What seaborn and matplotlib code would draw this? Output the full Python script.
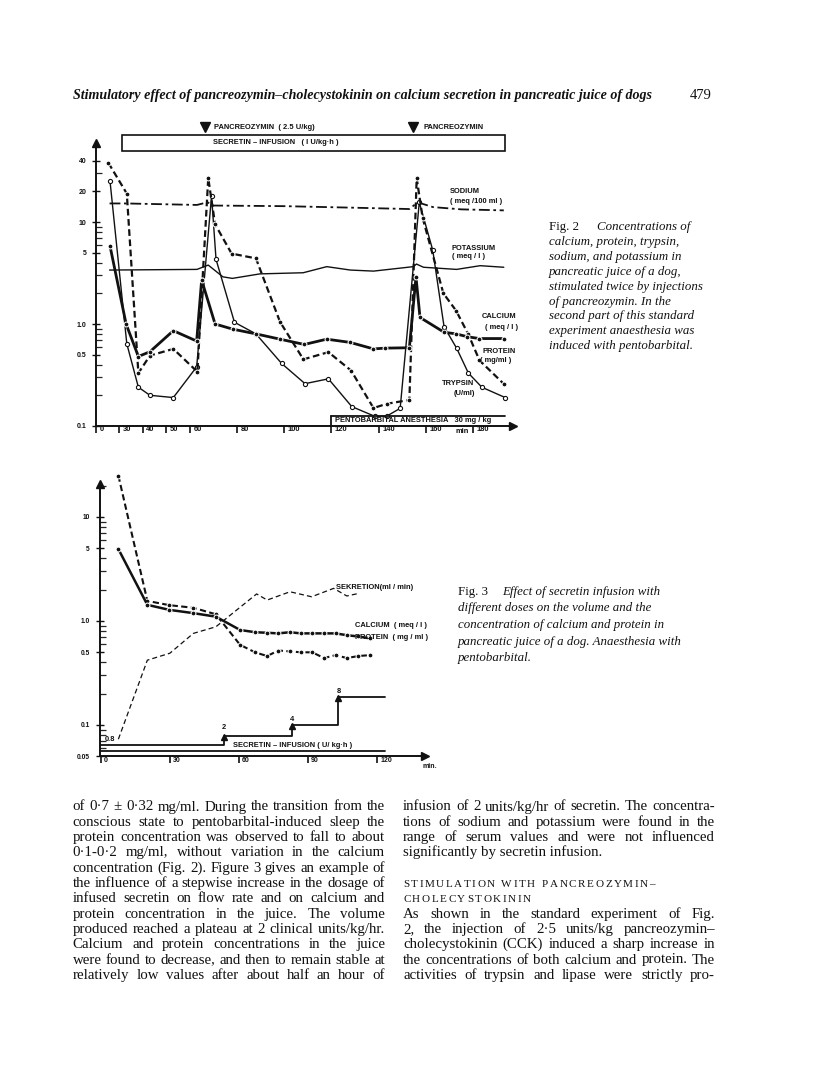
import numpy as np
import pandas as pd
import matplotlib
matplotlib.use("Agg")
import matplotlib.pyplot as plt
import seaborn as sns
from matplotlib import transforms as mtransforms
from matplotlib.patches import Rectangle
from matplotlib.ticker import FixedLocator, LogLocator, NullFormatter

W, H = 816, 1075

# ---- Fig. 2 : concentrations in pancreatic juice (time axis: "0" tick drawn at 20) ----
f2_calcium_t = [26.2, 33, 38.2, 43.1, 53, 62.9, 65, 70.7, 78.2, 88, 98.2, 108.5, 118, 127.9,
                137.8, 142.7, 153, 155.8, 157.5, 167.7, 172.8, 177.6, 182.6, 192.9]
f2_calcium_v = [5.8, 1.0, 0.48, 0.535, 0.86, 0.68, 2.7, 1.0, 0.89, 0.8, 0.71, 0.63, 0.71, 0.66,
                0.57, 0.58, 0.585, 2.9, 1.16, 0.83, 0.8, 0.75, 0.72, 0.72]

f2_protein_t = [25.5, 33.3, 38.2, 43.1, 53, 63.2, 67.8, 70.7, 77.7, 88, 98.2, 108.1, 118.7, 128.3,
                137.8, 143.4, 153, 156.1, 158.6, 167.4, 172.8, 178, 182.7, 192.9]
f2_protein_v = [38, 19, 0.33, 0.49, 0.57, 0.34, 27, 9.5, 4.9, 4.4, 1.05, 0.45, 0.53, 0.35,
                0.15, 0.165, 0.18, 27, 11, 2.0, 1.35, 0.79, 0.44, 0.26]

f2_trypsin_t = [26.2, 33.3, 38.2, 43.1, 53, 62.9, 69.2, 71.1, 78.9, 88, 98.9, 108.8, 118.7, 128.6,
                138.5, 143.4, 149.1, 157.2, 162.9, 167.7, 173, 178, 183.7, 193.6]
f2_trypsin_v = [25, 0.64, 0.24, 0.2, 0.19, 0.38, 18, 4.3, 1.04, 0.8, 0.41, 0.26, 0.29, 0.155,
                0.124, 0.125, 0.149, 15.6, 5.3, 0.94, 0.58, 0.33, 0.24, 0.19]

f2_sodium_t = [26, 33, 63, 67.5, 70, 100, 130, 153, 156.5, 163, 175, 193]
f2_sodium_v = [15.2, 15.2, 14.7, 15.6, 14.5, 14.3, 13.8, 13.4, 15.6, 14.0, 13.3, 13.0]

f2_potassium_t = [26, 63, 67.8, 74, 78, 89.7, 108, 118, 128, 137.8, 154.7, 156, 159, 173, 183, 193]
f2_potassium_v = [3.38, 3.43, 3.78, 2.9, 2.8, 3.1, 3.18, 3.65, 3.38, 3.3, 3.65, 3.87, 3.6, 3.43, 3.73, 3.6]

f2_xticks = [20.25, 30, 40, 50, 60, 80, 100, 120, 140, 160, 180]
f2_xlabels = ["0", "30", "40", "50", "60", "80", "100", "120", "140", "160", "180"]
f2_yticks = [0.1, 0.5, 1.0, 5, 10, 20, 40]
f2_ylabels = ["0.1", "0.5", "1.0", "5", "10", "20", "40"]

# ---- Fig. 3 : stepwise secretin infusion ----
f3_t = [7.7, 20.3, 29.8, 40.3, 50.1, 60.6, 67.1, 72.4, 77.2, 82.3, 87, 92, 97.1, 102.2, 107, 112, 117.1]
f3_protein_v = [25, 1.56, 1.42, 1.34, 1.16, 0.59, 0.50, 0.46, 0.52, 0.51, 0.50, 0.50, 0.44, 0.47, 0.44, 0.46, 0.47]
f3_calcium_v = [4.92, 1.43, 1.28, 1.19, 1.1, 0.82, 0.78, 0.77, 0.76, 0.78, 0.76, 0.76, 0.76, 0.76, 0.73, 0.71, 0.68]

f3_sekretion_t = [7.7, 20.3, 30.1, 40.3, 50.1, 67.8, 72.4, 82.3, 91.7, 101.3, 107, 112.6]
f3_sekretion_v = [0.073, 0.42, 0.49, 0.76, 0.88, 1.82, 1.59, 1.91, 1.71, 2.06, 1.74, 1.85]

dose_labels = ["0.8", "2", "4", "8"]
dose_start = [0, 53.7, 83.3, 103.3]
dose_end = 123.6

f3_xticks = [0, 30, 60, 90, 120]
f3_yticks = [0.05, 0.1, 0.5, 1.0, 5, 10]
f3_ylabels = ["0.05", "0.1", "0.5", "1.0", "5", "10"]

# ---- page text ----
header = "Stimulatory effect of pancreozymin\u2013cholecystokinin on calcium secretion in pancreatic juice of dogs"
cap2 = ["Concentrations of", "calcium, protein, trypsin,", "sodium, and potassium in",
        "pancreatic juice of a dog,", "stimulated twice by injections", "of pancreozymin. In the",
        "second part of this standard", "experiment anaesthesia was", "induced with pentobarbital."]
cap3 = ["Effect of secretin infusion with", "different doses on the volume and the",
        "concentration of calcium and protein in", "pancreatic juice of a dog. Anaesthesia with",
        "pentobarbital."]
left_col = [
    "of 0\u00b77 \u00b1 0\u00b732 mg/ml. During the transition from the",
    "conscious state to pentobarbital-induced sleep the",
    "protein concentration was observed to fall to about",
    "0\u00b71-0\u00b72 mg/ml, without variation in the calcium",
    "concentration (Fig. 2). Figure 3 gives an example of",
    "the influence of a stepwise increase in the dosage of",
    "infused secretin on flow rate and on calcium and",
    "protein concentration in the juice. The volume",
    "produced reached a plateau at 2 clinical units/kg/hr.",
    "Calcium and protein concentrations in the juice",
    "were found to decrease, and then to remain stable at",
    "relatively low values after about half an hour of",
]
right_col_a = [
    "infusion of 2 units/kg/hr of secretin. The concentra-",
    "tions of sodium and potassium were found in the",
    "range of serum values and were not influenced",
    "significantly by secretin infusion.",
]
right_head = ["STIMULATION WITH PANCREOZYMIN\u2013", "CHOLECYSTOKININ"]
right_col_b = [
    "As shown in the standard experiment of Fig.",
    "2, the injection of 2\u00b75 units/kg pancreozymin\u2013",
    "cholecystokinin (CCK) induced a sharp increase in",
    "the concentrations of both calcium and protein. The",
    "activities of trypsin and lipase were strictly pro-",
]

sns.set_style("white")
plt.rcParams["font.family"] = ["Liberation Sans", "DejaVu Sans"]
SERIF = ["Liberation Serif", "DejaVu Serif"]
INK = "#111111"

fig = plt.figure(figsize=(W / 100, H / 100), dpi=100)
renderer = fig.canvas.get_renderer()


def px_axes(l, t, r, b):
    return fig.add_axes([l / W, 1 - b / H, (r - l) / W, (b - t) / H])


def series(ax, t, v, **kw):
    df = pd.DataFrame({"t": t, "v": v})
    sns.lineplot(data=df, x="t", y="v", ax=ax, estimator=None, sort=False,
                 color=INK, clip_on=False, **kw)


def ptext(x, y, s, **kw):
    return fig.text(x / W, 1 - y / H, s, **kw)


def fit_size(lines, width, **kw):
    probe = ptext(0, 0, "", fontsize=10, **kw)
    widest = 0
    for line in lines:
        probe.set_text(line)
        widest = max(widest, probe.get_window_extent(renderer).width)
    probe.remove()
    return 10 * width / widest


def justify(x0, x1, y, line, **kw):
    words = line.split(" ")
    items = [ptext(0, 0, w, ha="left", va="baseline", **kw) for w in words]
    widths = [it.get_window_extent(renderer).width for it in items]
    gap = (x1 - x0 - sum(widths)) / max(len(words) - 1, 1)
    x = x0
    for it, w in zip(items, widths):
        it.set_position((x / W, 1 - y / H))
        x += w + gap


def tracked(x, y, s, track, space, **kw):
    for ch in s:
        if ch == " ":
            x += space
            continue
        it = ptext(x, y, ch, ha="left", va="baseline", **kw)
        x += it.get_window_extent(renderer).width + track


def style_axes(ax):
    ax.set_xlabel("")
    ax.set_ylabel("")
    for side in ["top", "right"]:
        ax.spines[side].set_visible(False)
    for side in ["left", "bottom"]:
        ax.spines[side].set_linewidth(1.4)
        ax.spines[side].set_color(INK)
    ax.plot([0], [1], marker="^", ms=6, color=INK, transform=ax.transAxes, clip_on=False)
    ax.plot([1], [0], marker=">", ms=6, color=INK, transform=ax.transAxes, clip_on=False)
    ax.patch.set_alpha(0)


LAB = 5.4
lab = dict(fontsize=LAB, fontweight="bold", color=INK)
shift = mtransforms.ScaledTranslation(3.5 / 100, 0, fig.dpi_scale_trans)

# ======================= Fig. 2 =======================
ax2 = px_axes(96, 143, 513, 426)
ax2.set_yscale("log")
series(ax2, f2_sodium_t, f2_sodium_v, lw=1.3, linestyle=(0, (6, 2, 1.5, 2)))
series(ax2, f2_potassium_t, f2_potassium_v, lw=1.0)
series(ax2, f2_trypsin_t, f2_trypsin_v, lw=1.0, marker="o", ms=3, mfc="white", mec=INK, mew=0.8)
series(ax2, f2_protein_t, f2_protein_v, lw=1.6, linestyle=(0, (3, 1.6)), marker="o", ms=3.5)
series(ax2, f2_calcium_t, f2_calcium_v, lw=2.0, marker="o", ms=3.5)
ax2.set_xlim(20.25, 196.9)
ax2.set_ylim(0.1, 59.5)
style_axes(ax2)

ax2.yaxis.set_major_locator(FixedLocator(f2_yticks))
ax2.set_yticklabels(f2_ylabels)
ax2.yaxis.set_minor_locator(LogLocator(base=10, subs=(2, 3, 4, 6, 7, 8, 9)))
ax2.yaxis.set_minor_formatter(NullFormatter())
ax2.tick_params(axis="y", which="major", direction="inout", length=6, width=1.0, pad=4,
                labelsize=LAB - 0.4, colors=INK, left=True)
ax2.tick_params(axis="y", which="minor", direction="in", length=4, width=0.9, left=True)
ax2.set_xticks(f2_xticks)
ax2.set_xticklabels(f2_xlabels, fontweight="bold")
ax2.tick_params(axis="x", direction="out", length=5, width=1.2, pad=-4.8, labelsize=LAB,
                colors=INK, bottom=True)
for t in ax2.get_xticklabels():
    t.set_ha("left")
    t.set_transform(t.get_transform() + shift)
for t in ax2.get_yticklabels():
    t.set_fontweight("bold")
ax2.text(172.5, 0.1, "min", ha="left", va="top", fontsize=LAB, color=INK,
         fontweight="bold").set_transform(
    ax2.transData + mtransforms.ScaledTranslation(0, -2 / 100, fig.dpi_scale_trans))

# secretin box, pancreozymin injections
ax2.add_patch(Rectangle((31.3, 49.7), 193.6 - 31.3, 71.3 - 49.7, fill=False, lw=1.2,
                        ec=INK, clip_on=False))
ax2.text(69.8, 59.5, "SECRETIN \u2013 INFUSION   ( I U/kg\u00b7h )", va="center", ha="left", **lab)
ax2.plot([66.4], [85], marker="v", ms=7, color=INK, clip_on=False)
ax2.text(70.2, 85, "PANCREOZYMIN  ( 2.5 U/kg)", va="center", ha="left", **lab)
ax2.plot([154.6], [85], marker="v", ms=7, color=INK, clip_on=False)
ax2.text(158.8, 85, "PANCREOZYMIN", va="center", ha="left", **lab)

# pentobarbital anesthesia bracket
ax2.plot([120, 193.6], [0.125, 0.125], color=INK, lw=1.3, clip_on=False)
ax2.plot([120, 120], [0.1, 0.125], color=INK, lw=1.3, clip_on=False)
ax2.text(121.6, 0.112, "PENTOBARBITAL ANESTHESIA   30 mg / kg", va="center", ha="left", **lab)

# series labels
for x, y, s in [(170.3, 19.8, "SODIUM"), (170.3, 15.8, "( meq /100 ml )"),
                (171.0, 5.5, "POTASSIUM"), (171.0, 4.54, "( meq / l )"),
                (183.7, 1.18, "CALCIUM"), (185.1, 0.92, "( meq / l )"),
                (184.1, 0.535, "PROTEIN"), (183.0, 0.434, "( mg/ml )"),
                (166.7, 0.262, "TRYPSIN"), (171.7, 0.209, "(U/ml)")]:
    ax2.text(x, y, s, ha="left", va="center", **lab)

# ======================= Fig. 3 =======================
ax3 = px_axes(99.5, 484, 425, 756.3)
ax3.set_yscale("log")
series(ax3, f3_sekretion_t, f3_sekretion_v, lw=0.9, linestyle=(0, (4, 2.5)))
series(ax3, f3_t, f3_protein_v, lw=1.5, linestyle=(0, (3, 1.6)), marker="o", ms=3.5)
series(ax3, f3_t, f3_calcium_v, lw=1.8, marker="o", ms=3.5)
ax3.set_xlim(-0.5, 141)
ax3.set_ylim(0.05, 20.76)
style_axes(ax3)

ax3.yaxis.set_major_locator(FixedLocator(f3_yticks))
ax3.set_yticklabels(f3_ylabels)
ax3.yaxis.set_minor_locator(LogLocator(base=10, subs=(2, 3, 4, 6, 7, 8, 9)))
ax3.yaxis.set_minor_formatter(NullFormatter())
ax3.tick_params(axis="y", which="major", direction="inout", length=6, width=1.0, pad=4,
                labelsize=LAB - 0.6, colors=INK, left=True)
ax3.tick_params(axis="y", which="minor", direction="in", length=4, width=0.9, left=True)
ax3.set_xticks(f3_xticks)
ax3.set_xticklabels([str(v) for v in f3_xticks], fontweight="bold")
ax3.tick_params(axis="x", direction="out", length=5, width=1.2, pad=-4.8, labelsize=LAB - 0.4,
                colors=INK, bottom=True)
for t in ax3.get_xticklabels():
    t.set_ha("left")
    t.set_transform(t.get_transform() + shift)
for t in ax3.get_yticklabels():
    t.set_fontweight("bold")
ax3.text(140, 0.05, "min.", ha="left", va="top", fontsize=LAB - 0.4, color=INK,
         fontweight="bold").set_transform(
    ax3.transData + mtransforms.ScaledTranslation(0, -7 / 100, fig.dpi_scale_trans))

# secretin dose steps
step_level = [0.064, 0.0784, 0.1, 0.185]
xs = [0]
ys = [step_level[0]]
for i in range(1, len(dose_start)):
    xs += [dose_start[i], dose_start[i]]
    ys += [step_level[i - 1], step_level[i]]
xs.append(dose_end)
ys.append(step_level[-1])
ax3.plot(xs, ys, color=INK, lw=1.3, clip_on=False)
for i in range(1, len(dose_start)):
    ax3.plot([dose_start[i]], [step_level[i] * 0.985], marker="^", ms=4.5, color=INK, clip_on=False)
ax3.plot([0, dose_end], [0.0566, 0.0566], color=INK, lw=1.3, clip_on=False)
for s, x, y in zip(dose_labels, [1.9, 52.6, 82.4, 102.5], [0.072, 0.095, 0.114, 0.209]):
    ax3.text(x, y, s, ha="left", va="center", **lab)
ax3.text(57.5, 0.064, "SECRETIN \u2013 INFUSION ( U/ kg\u00b7h )", ha="left", va="center", **lab)

ax3.text(102.5, 2.1, "SEKRETION(ml / min)", ha="left", va="center", **lab)
ax3.text(110.5, 0.9, "CALCIUM  ( meq / l )", ha="left", va="center", **lab)
ax3.text(110.5, 0.69, "PROTEIN  ( mg / ml )", ha="left", va="center", **lab)

# ======================= page text =======================
hsize = fit_size([header], 582, family=SERIF, style="italic", fontweight="bold")
ptext(72.7, 99, header, ha="left", va="baseline", family=SERIF, style="italic",
      fontweight="bold", fontsize=hsize, color=INK)
ptext(690, 99, "479", ha="left", va="baseline", family=SERIF, fontsize=10.5, color=INK)

cap = dict(family=SERIF, fontsize=9.3, color=INK)
for i, line in enumerate(cap2):
    y = 230 + i * 14.9
    ptext(597 if i == 0 else 549, y, line, ha="left", va="baseline", style="italic", **cap)
ptext(549, 230, "Fig. 2", ha="left", va="baseline", **cap)

for i, line in enumerate(cap3):
    y = 595 + i * 16.5
    ptext(502 if i == 0 else 458, y, line, ha="left", va="baseline", style="italic", **cap)
ptext(458, 595, "Fig. 3", ha="left", va="baseline", **cap)

bsize = fit_size(left_col + right_col_a[:-1] + right_col_b, 311, family=SERIF)
body = dict(family=SERIF, fontsize=bsize, color=INK)
base0, lead = 810.5, 15.3
for i, line in enumerate(left_col):
    justify(72.7, 385, base0 + i * lead, line, **body)
for i, line in enumerate(right_col_a):
    y = base0 + i * lead
    if i < len(right_col_a) - 1:
        justify(403, 715, y, line, **body)
    else:
        ptext(403, y, line, ha="left", va="baseline", **body)
for i, line in enumerate(right_head):
    tracked(403, base0 + (5 + i) * lead, line, 1.6, 5.0, family=SERIF, fontsize=8.0, color=INK)
for i, line in enumerate(right_col_b):
    justify(403, 715, base0 + (7 + i) * lead, line, **body)

fig.savefig("out.png", dpi=100, facecolor="white")
